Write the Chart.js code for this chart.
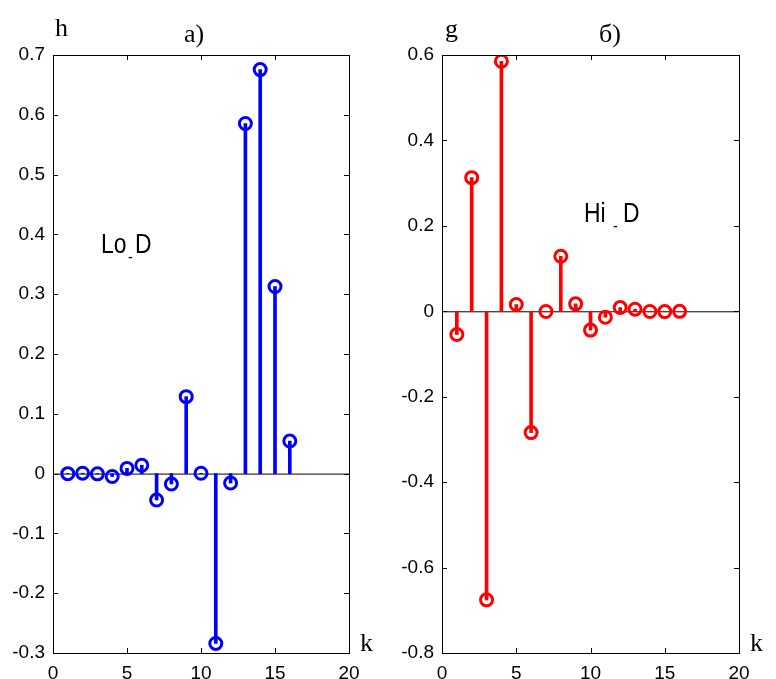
<!DOCTYPE html>
<html>
<head>
<meta charset="utf-8">
<script src="https://cdn.jsdelivr.net/npm/chart.js@4.4.1/dist/chart.umd.min.js"></script>
<style>
  html, body { margin: 0; padding: 0; background: #fff; }
  .box { position: absolute; top: 0; width: 388px; height: 679px; }
</style>
</head>
<body>
<div class="box" style="left:0"><canvas id="chartLo"></canvas></div>
<div class="box" style="left:388px"><canvas id="chartHi"></canvas></div>
<script>
// k = 1..16
const k = [1, 2, 3, 4, 5, 6, 7, 8, 9, 10, 11, 12, 13, 14, 15, 16];
// Lo_D (h)
const loD = [-0.0001, 0.0007, -0.0004, -0.0049, 0.0087, 0.014, -0.0441, -0.0174,
             0.1287, 0.0005, -0.284, -0.0158, 0.5854, 0.6756, 0.3129, 0.0544];
// Hi_D (g)
const hiD = [-0.0544, 0.3129, -0.6756, 0.5854, 0.0158, -0.284, -0.0005, 0.1287,
             0.0174, -0.0441, -0.014, 0.0087, 0.0049, -0.0004, -0.0007, -0.0001];
const xTicks = [0, 5, 10, 15, 20];
const yTicksLo = [-0.3, -0.2, -0.1, 0, 0.1, 0.2, 0.3, 0.4, 0.5, 0.6, 0.7];
const yTicksHi = [-0.8, -0.6, -0.4, -0.2, 0, 0.2, 0.4, 0.6];

const tickFont = { family: 'Liberation Sans, Arial, sans-serif', size: 19 };

function squeezedText(ctx, txt, x, y, font, sx) {
  ctx.save();
  ctx.font = font;
  ctx.fillStyle = '#000';
  ctx.textBaseline = 'alphabetic';
  ctx.textAlign = 'left';
  ctx.translate(x, y);
  ctx.scale(sx, 1);
  ctx.fillText(txt, 0, 0);
  ctx.restore();
}

// frame, inner ticks, zero line and labels (MATLAB-like)
const framePlugin = {
  id: 'frame',
  beforeDatasetsDraw(chart) {
    const { ctx, chartArea: a, scales } = chart;
    const y0 = scales.y.getPixelForValue(0);
    ctx.save();
    ctx.strokeStyle = '#000';
    ctx.lineWidth = 1;
    ctx.beginPath();
    ctx.moveTo(a.left, y0 + 0.5);
    ctx.lineTo(a.right, y0 + 0.5);
    ctx.stroke();
    ctx.restore();
  },
  afterDraw(chart, args, opts) {
    const { ctx, chartArea: a, scales } = chart;
    ctx.save();
    ctx.strokeStyle = '#000';
    ctx.lineWidth = 1;
    ctx.strokeRect(a.left + 0.5, a.top + 0.5, a.right - a.left, a.bottom - a.top);
    ctx.beginPath();
    xTicks.forEach(v => {
      const px = Math.round(scales.x.getPixelForValue(v)) + 0.5;
      ctx.moveTo(px, a.bottom); ctx.lineTo(px, a.bottom - 5);
      ctx.moveTo(px, a.top); ctx.lineTo(px, a.top + 5);
    });
    opts.yTicks.forEach(v => {
      const py = Math.round(scales.y.getPixelForValue(v)) + 0.5;
      ctx.moveTo(a.left, py); ctx.lineTo(a.left + 5, py);
      ctx.moveTo(a.right, py); ctx.lineTo(a.right - 5, py);
    });
    ctx.stroke();
    ctx.restore();

    const serif = '26px "Liberation Serif", "Times New Roman", serif';
    const sans = '27px "Liberation Sans", Arial, sans-serif';
    squeezedText(ctx, opts.yName, opts.yNameX, opts.yNameY, serif, 1);
    squeezedText(ctx, opts.title, opts.titleX, 42, serif, 1);
    squeezedText(ctx, 'k', a.right + 11, 651, serif, 1);
    // name with lowered underscore
    const n = opts.name;
    squeezedText(ctx, n.a, n.x, n.y, sans, 0.85);
    squeezedText(ctx, '-', n.x + n.dash, n.y + 9, '17px "Liberation Sans", Arial, sans-serif', 0.85);
    squeezedText(ctx, 'D', n.x + n.d, n.y, sans, 0.85);
  }
};

function makeChart(id, values, color, yMin, yMax, step, yTicks, yWidth, rightPad, extra) {
  const pts = k.map((x, i) => ({ x: x, y: values[i] }));
  new Chart(document.getElementById(id), {
    type: 'bar',
    data: {
      datasets: [
        {
          type: 'bar',
          data: pts,
          backgroundColor: color,
          borderWidth: 0,
          barThickness: 3,
          order: 2
        },
        {
          type: 'scatter',
          data: pts,
          showLine: false,
          pointStyle: 'circle',
          pointRadius: 6,
          pointBorderWidth: 3,
          pointBorderColor: color,
          pointBackgroundColor: 'rgba(0,0,0,0)',
          order: 1
        }
      ]
    },
    options: {
      responsive: true,
      maintainAspectRatio: false,
      animation: false,
      layout: { padding: { top: 55, right: rightPad, left: 0, bottom: 0 } },
      plugins: {
        legend: { display: false },
        tooltip: { enabled: false },
        frame: Object.assign({ yTicks: yTicks }, extra)
      },
      scales: {
        x: {
          type: 'linear',
          min: 0, max: 20,
          offset: false,
          grid: { display: false, drawTicks: false, offset: false },
          border: { display: false },
          ticks: { stepSize: 5, padding: 9, color: '#000', font: tickFont, maxRotation: 0 },
          afterFit(s) { s.height = 26; }
        },
        y: {
          min: yMin, max: yMax,
          grid: { display: false, drawTicks: false },
          border: { display: false },
          ticks: {
            stepSize: step, padding: 8, color: '#000', font: tickFont,
            callback: v => String(Number(v.toFixed(1)))
          },
          afterFit(s) { s.width = yWidth; }
        }
      }
    },
    plugins: [framePlugin]
  });
}

makeChart('chartLo', loD, '#0000ff', -0.3, 0.7, 0.1, yTicksLo, 53, 39, {
  yName: 'h', yNameX: 55, yNameY: 36, title: 'a)', titleX: 184,
  name: { a: 'Lo', x: 101, y: 253, dash: 27, d: 34 }
});
makeChart('chartHi', hiD, '#ff0000', -0.8, 0.6, 0.2, yTicksHi, 54, 37, {
  yName: 'g', yNameX: 57, yNameY: 37, title: 'б)', titleX: 211,
  name: { a: 'Hi', x: 196, y: 222, dash: 29, d: 39 }
});
</script>
</body>
</html>
